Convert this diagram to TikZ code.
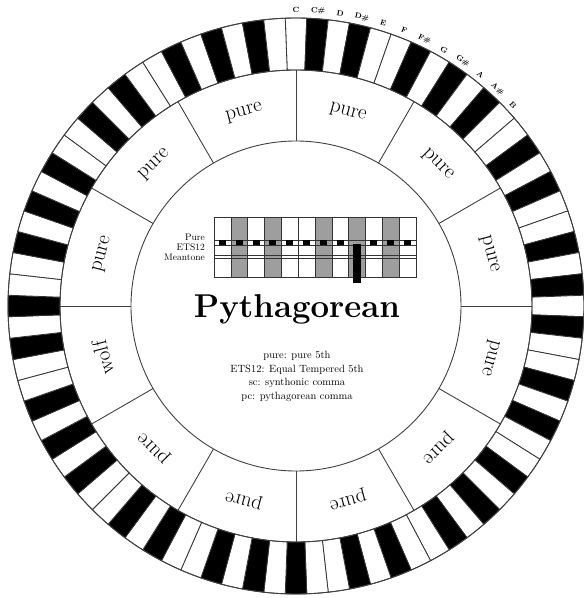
\documentclass[tikz,border=0pt]{standalone}
\usepackage{tikz}
\usetikzlibrary{positioning}

\begin{document}
\begin{tikzpicture}[x=1pt,y=1pt]
\tikzstyle{every node}=[inner sep=0pt]
\tikzstyle{keyline}=[draw=black!80,line width=0.8pt]
\tikzstyle{ring}=[draw=black!75,line width=0.9pt]
\tikzstyle{tuning}=[font=\fontsize{21}{24}\selectfont]
\tikzstyle{notename}=[font=\fontsize{7.5}{8}\selectfont\bfseries]
\tikzstyle{rowname}=[font=\fontsize{9.5}{10}\selectfont,anchor=east]
\tikzstyle{cell}=[draw=black!80,line width=0.6pt]
\useasboundingbox (-296,-292) rectangle (288,306);

% keyboard ring
\foreach \k in {0,...,83}{
  \pgfmathtruncatemacro\n{mod(\k,12)}
  \pgfmathsetmacro\aa{90-\k*(360/84)+180/84}
  \pgfmathsetmacro\ab{90-\k*(360/84)-180/84}
  \ifcase\n \def\kc{white}\or\def\kc{black}\or\def\kc{white}\or\def\kc{black}\or
    \def\kc{white}\or\def\kc{white}\or\def\kc{black}\or\def\kc{white}\or
    \def\kc{black}\or\def\kc{white}\or\def\kc{black}\or\def\kc{white}\fi
  \filldraw[keyline,fill=\kc] (\aa:236pt) -- (\aa:288pt)
    arc[start angle=\aa,end angle=\ab,radius=288pt] -- (\ab:236pt)
    arc[start angle=\ab,end angle=\aa,radius=236pt] -- cycle;
}
\draw[ring] (0,0) circle[radius=288pt];
\draw[ring] (0,0) circle[radius=236pt];
\draw[ring] (0,0) circle[radius=165pt];
\foreach \a in {0,30,...,330}
  \draw[ring] (\a:165pt) -- (\a:236pt);

% fifths
\foreach \lab [count=\i from 0] in {pure,pure,pure,pure,pure,pure,wolf,pure,pure,pure,pure,pure}{
  \pgfmathsetmacro\a{15+30*\i}
  \node[tuning,rotate=\a-90] (s\i) at (\a:200pt) {\lab};
}

% note names
\foreach \nm [count=\i from 0] in {C,C\#,D,D\#,E,F,F\#,G,G\#,A,A\#,B}{
  \pgfmathsetmacro\a{90-\i*(360/84)}
  \node[notename,rotate=\a-90] (n\i) at (\a:296pt) {\nm};
}

% chart
\def\cw{16.83}
\foreach \c in {0,...,11}{
  \ifcase\c \def\cc{white}\or\def\cc{black!38}\or\def\cc{white}\or\def\cc{black!38}\or
    \def\cc{white}\or\def\cc{white}\or\def\cc{black!38}\or\def\cc{white}\or
    \def\cc{black!38}\or\def\cc{white}\or\def\cc{black!38}\or\def\cc{white}\fi
  \filldraw[cell,fill=\cc] (-82+\c*\cw,29) rectangle (-82+\c*\cw+\cw,89);
}
\foreach \y in {66,61,51,48}
  \draw[cell] (-82,\y) -- (-82+12*\cw,\y);
\foreach \c in {0,1,2,3,4,5,6,7,9,10,11}
  \fill (-82+\c*\cw+\cw/2-3.5,61) rectangle ++(7,5);
\fill (-82+8.5*\cw-4,23) rectangle ++(8,39);
\node[rowname] (pure) at (-91,69) {Pure};
\node[rowname] (ets) at (-91,59) {ETS12};
\node[rowname] (mean) at (-91,49) {Meantone};

\node[font=\fontsize{33}{36}\selectfont\bfseries,anchor=base] (title) at (1,-11) {Pythagorean};
\node[font=\fontsize{10.5}{13.8}\selectfont,align=center,below=27pt of title] (legend)
  {pure: pure 5th\\ETS12: Equal Tempered 5th\\sc: synthonic comma\\pc: pythagorean comma};
\end{tikzpicture}
\end{document}
